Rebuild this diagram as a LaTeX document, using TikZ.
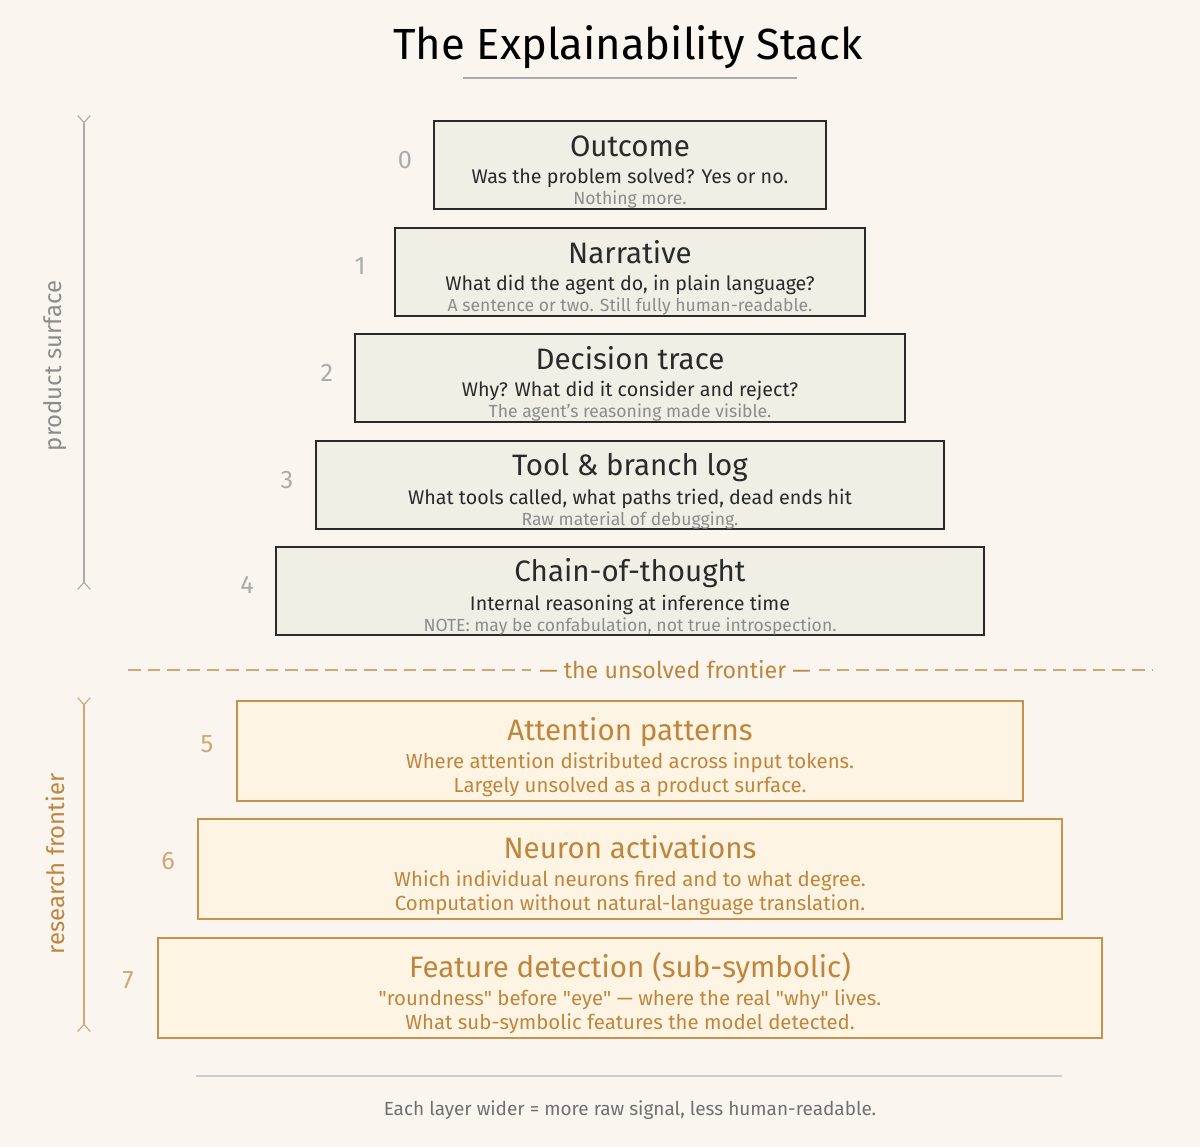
\documentclass[tikz,border=0pt]{standalone}
\usepackage{fontspec}
\setmainfont{Fira Sans}
\usepackage{xcolor}
\usetikzlibrary{arrows.meta}
\definecolor{PaperBg}{HTML}{FAF6EF}
\definecolor{StoneFill}{HTML}{F1EEE6}
\definecolor{InkDark}{HTML}{2A2A2A}
\definecolor{NoteGray}{HTML}{8C8C8C}
\definecolor{LevelGray}{HTML}{ABABAB}
\definecolor{AmberFill}{HTML}{FEF4E3}
\definecolor{AmberLine}{HTML}{C8924C}
\definecolor{AmberInk}{HTML}{C0853C}
\definecolor{AmberSoft}{HTML}{D0A774}
% title line of each layer, with a tall strut that pushes the text block down a little
\newcommand{\boxtitle}{\fontsize{21}{24}\selectfont\rule{0pt}{25pt}}
\newcommand{\boxnote}{\fontsize{12.5}{14}\selectfont}

\tikzset{
  stonebox/.style={draw=InkDark, fill=StoneFill, line width=1.3pt, minimum height=2.18cm,
    align=center, text=InkDark, font=\fontsize{14}{15}\selectfont, inner sep=0pt},
  amberbox/.style={draw=AmberLine, fill=AmberFill, line width=1.3pt, minimum height=2.48cm,
    align=center, text=AmberInk, font=\fontsize{14.5}{17}\selectfont, inner sep=0pt},
  levelnum/.style={text=LevelGray, font=\fontsize{18}{20}\selectfont},
  amberlevel/.style={levelnum, text=AmberSoft},
  sidebar/.style={line width=0.8pt, {Straight Barb[reversed,length=5pt,width=9pt]}-{Straight Barb[reversed,length=5pt,width=9pt]}},
}

\begin{document}
\begin{tikzpicture}[x=0.025cm, y=-0.025cm]
      % page
      \fill[PaperBg] (0,0) rectangle (1200,1147);
      \useasboundingbox (0,0) rectangle (1200,1147);

      % title
      \node[font=\fontsize{31}{34}\selectfont, text=black] (title) at (628,47) {The Explainability Stack};
      \coordinate (ruleL) at (463,78);
      \coordinate (ruleR) at (797,78);
      \draw[LevelGray, line width=1pt] (ruleL) -- (ruleR);

      % Layer 0
      \node[stonebox, minimum width=9.78cm] (outcome) at (630,165) {{\boxtitle Outcome}\\[4pt]
        Was the problem solved? Yes or no.\\ {\boxnote\color{NoteGray}Nothing more.}};
      \node[levelnum] (n0) at (405,160) {0};

      % Layer 1
      \node[stonebox, minimum width=11.75cm] (narrative) at (630,272) {{\boxtitle Narrative}\\[4pt]
        What did the agent do, in plain language?\\ {\boxnote\color{NoteGray}A sentence or two. Still fully human-readable.}};
      \node[levelnum] (n1) at (360,266) {1};

      % Layer 2
      \node[stonebox, minimum width=13.73cm] (decision) at (630,378) {{\boxtitle Decision trace}\\[4pt]
        Why? What did it consider and reject?\\ {\boxnote\color{NoteGray}The agent's reasoning made visible.}};
      \node[levelnum] (n2) at (327,373) {2};

      % Layer 3
      \node[stonebox, minimum width=15.7cm] (toollog) at (630,485) {{\boxtitle Tool \& branch log}\\[4pt]
        What tools called, what paths tried, dead ends hit\\ {\boxnote\color{NoteGray}Raw material of debugging.}};
      \node[levelnum] (n3) at (287,480) {3};

      % Layer 4
      \node[stonebox, minimum width=17.68cm] (chain) at (630,591) {{\boxtitle Chain-of-thought}\\[4pt]
        Internal reasoning at inference time\\ {\boxnote\color{NoteGray}NOTE: may be confabulation, not true introspection.}};
      \node[levelnum] (n4) at (247,585) {4};

      % frontier line
      \coordinate (frontL) at (128,670);
      \coordinate (frontR) at (1153,670);
      \draw[AmberSoft, line width=1.1pt, dash pattern=on 9pt off 5pt] (frontL) -- (frontR);
      \node[fill=PaperBg, text=AmberInk, font=\fontsize{16.5}{18}\selectfont, inner xsep=6pt] (frontier) at (675,670) {\textemdash\ the unsolved frontier \textemdash};

      % Layer 5
      \node[amberbox, minimum width=19.65cm] (attention) at (630,751) {{\boxtitle Attention patterns}\\[3pt]
        Where attention distributed across input tokens.\\ Largely unsolved as a product surface.};
      \node[amberlevel] (n5) at (207,744) {5};

      % Layer 6
      \node[amberbox, minimum width=21.6cm] (neuron) at (630,869) {{\boxtitle Neuron activations}\\[3pt]
        Which individual neurons fired and to what degree.\\ Computation without natural-language translation.};
      \node[amberlevel] (n6) at (168,861) {6};

      % Layer 7
      \node[amberbox, minimum width=23.6cm] (feature) at (630,988) {{\boxtitle Feature detection (sub-symbolic)}\\[3pt]
        \textquotedbl roundness\textquotedbl\ before \textquotedbl eye\textquotedbl\ \textemdash\ where the real \textquotedbl why\textquotedbl\ lives.\\ What sub-symbolic features the model detected.};
      \node[amberlevel] (n7) at (128,980) {7};

      % side brackets
      \coordinate (surfTop) at (84,115);
      \coordinate (surfBot) at (84,590);
      \draw[sidebar, LevelGray] (surfTop) -- (surfBot);
      \node[rotate=90, text=NoteGray, font=\fontsize{17}{19}\selectfont] (surface) at (55,366) {product surface};
      \coordinate (resTop) at (84,697);
      \coordinate (resBot) at (84,1032);
      \draw[sidebar, AmberSoft] (resTop) -- (resBot);
      \node[rotate=90, text=AmberInk, font=\fontsize{17}{19}\selectfont] (research) at (55,864) {research frontier};

      % footer
      \coordinate (footL) at (196,1076);
      \coordinate (footR) at (1062,1076);
      \draw[LevelGray!60, line width=0.8pt] (footL) -- (footR);
      \node[text=NoteGray!80!black, font=\fontsize{13.5}{15}\selectfont] (footer) at (630,1110) {Each layer wider = more raw signal, less human-readable.};
    \end{tikzpicture}
\end{document}
